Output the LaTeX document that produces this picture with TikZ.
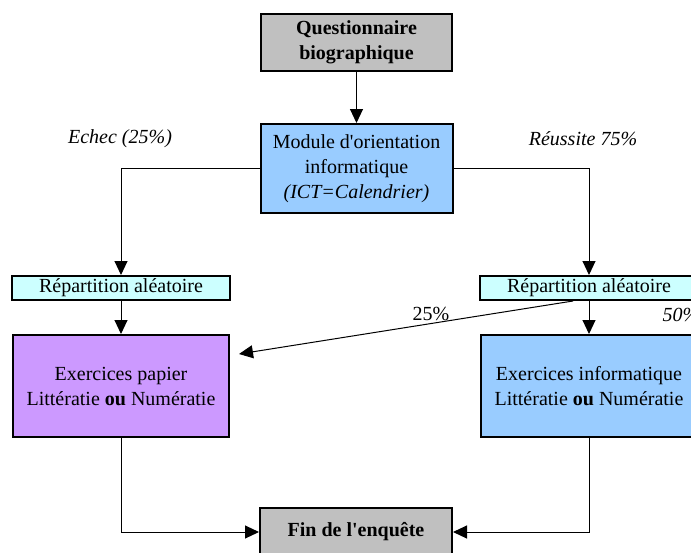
\documentclass[tikz,border=0pt]{standalone}
\usepackage{fontspec}
\setmainfont{Liberation Serif}
\usepackage{tikz}
\usetikzlibrary{positioning,calc,arrows.meta}
\definecolor{gris}{HTML}{C0C0C0}
\definecolor{bleu}{HTML}{99CCFF}
\definecolor{cyanclair}{HTML}{CCFFFF}
\definecolor{violet}{HTML}{CC99FF}

\begin{document}
\begin{tikzpicture}[font=\fontsize{10}{12.5}\selectfont, etape/.style={rectangle, draw, line width=1pt, align=center, inner sep=1pt, minimum width=#1}, etape/.default=96pt, fleche/.style={-{Triangle[length=7pt,width=6.5pt]}, line width=0.5pt}, lien/.style={line width=0.5pt}, etiquette/.style={font=\fontsize{10}{12}\selectfont\itshape}]

\useasboundingbox (0,0) rectangle (345.5pt,-276pt);

% ETAPES

\node [etape=95.5pt, fill=gris, minimum height=28.5pt] (questionnaire) at (178.25pt,-21.25pt) {\textbf{Questionnaire}\\\textbf{biographique}};

\node [etape, fill=bleu, minimum height=44.5pt, below=25.5pt of questionnaire] (module) {Module d\textquotesingle orientation\\informatique\\\textit{(ICT=Calendrier)}};

\node [etape=109pt, fill=cyanclair, minimum height=12pt] (repartition-gauche) at (60.5pt,-144pt) {Répartition aléatoire};

\node [etape=109pt, fill=cyanclair, minimum height=12pt] (repartition-droite) at (294.5pt,-144pt) {Répartition aléatoire};

\node [etape=108pt, fill=violet, minimum height=51pt, below=16.5pt of repartition-gauche] (exercices-papier) {Exercices papier\\Littératie \textbf{ou} Numératie};

\node [etape=108pt, fill=bleu, minimum height=51pt, below=16.5pt of repartition-droite] (exercices-info) {Exercices informatique\\Littératie \textbf{ou} Numératie};

\node [etape, fill=gris, minimum height=24pt] (fin) at (178pt,-266pt) {\textbf{Fin de l\textquotesingle enquête}};

% ETIQUETTES

\node [etiquette] (echec) at (60pt,-69.5pt) {Echec (25\%)};
\node [etiquette] (reussite) at (291.5pt,-69.5pt) {Réussite 75\%};
\node (papier-pct) at (215.5pt,-157pt) {25\%};
\node [etiquette] (info-pct) at (340.5pt,-157.5pt) {50\%};

% LIENS

\coordinate (depart-diag) at ($(repartition-droite.south)+(-8pt,0)$);
\coordinate (arrivee-diag) at ($(exercices-papier.north east)+(4.5pt,-10pt)$);

\draw [fleche] (questionnaire) -- (module);
\draw [fleche] (module.west) -| (repartition-gauche.north);
\draw [fleche] (module.east) -| (repartition-droite.north);
\draw [fleche] (repartition-gauche) -- (exercices-papier);
\draw [fleche] (repartition-droite) -- (exercices-info);
\draw [fleche] (depart-diag) -- (arrivee-diag);
\draw [fleche] (exercices-papier.south) |- (fin.west);
\draw [fleche] (exercices-info.south) |- (fin.east);

\end{tikzpicture}
\end{document}
